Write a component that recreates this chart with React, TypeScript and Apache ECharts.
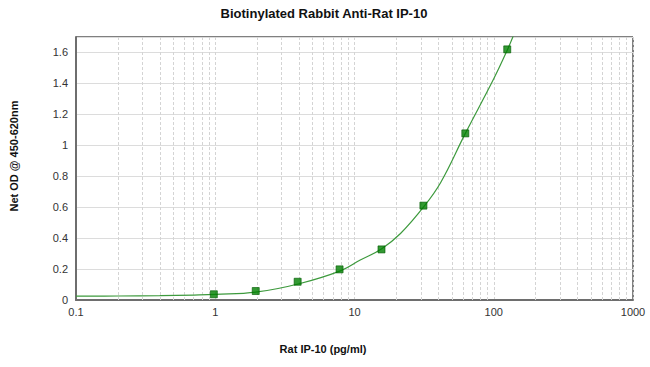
import React, { useEffect, useRef } from "react";
import * as echarts from "echarts";

const titleText = "Biotinylated Rabbit Anti-Rat IP-10";
const xTitle = "Rat IP-10 (pg/ml)";
const yTitle = "Net OD @ 450-620nm";

// standards (pg/ml) and measured net OD
const concentrations = [0.977, 1.953, 3.906, 7.8125, 15.625, 31.25, 62.5, 125];
const odValues = [0.037, 0.058, 0.118, 0.198, 0.327, 0.61, 1.077, 1.62];

// fitted curve
const curveX = [0.1, 0.2, 0.4, 0.7, 1, 2, 4, 8, 11, 15.6, 21.4, 31.25, 41.6, 62.5, 100, 125, 140];
const curveY = [0.025, 0.026, 0.028, 0.032, 0.036, 0.052, 0.105, 0.19, 0.258, 0.33, 0.43, 0.6, 0.76, 1.077, 1.43, 1.615, 1.72];

// minor log grid lines
const minorGridX = [
  0.2, 0.3, 0.4, 0.5, 0.6, 0.7, 0.8, 0.9,
  2, 3, 4, 5, 6, 7, 8, 9,
  20, 30, 40, 50, 60, 70, 80, 90,
  200, 300, 400, 500, 600, 700, 800, 900,
];

const FONT = "Arial, 'Liberation Sans', sans-serif";

export default function App() {
  const ref = useRef<HTMLDivElement>(null);
  useEffect(() => {
    document.body.style.margin = "0";
    const chart = echarts.init(ref.current!, null, { renderer: "svg" });
    chart.setOption({
      animation: false,
      backgroundColor: "#ffffff",
      grid: {
        left: 76,
        right: 17,
        top: 37,
        bottom: 67,
        show: true,
        borderColor: "#000000",
        borderWidth: 1,
        backgroundColor: "transparent",
      },
      xAxis: {
        type: "log",
        logBase: 10,
        min: 0.1,
        max: 1000,
        axisLine: { show: true, lineStyle: { color: "#6e6e6e", width: 2 } },
        axisTick: { show: false },
        axisLabel: {
          color: "#333",
          fontSize: 11,
          fontFamily: FONT,
          margin: 6,
          formatter: (v: number) => String(v),
        },
        splitLine: { show: true, lineStyle: { color: "#d4d4d4", type: [3, 2], width: 1 } },
      },
      yAxis: {
        type: "value",
        min: 0,
        max: 1.7,
        interval: 0.2,
        axisLine: { show: true, lineStyle: { color: "#6e6e6e", width: 2 } },
        axisTick: { show: false },
        axisLabel: {
          color: "#333",
          fontSize: 11,
          fontFamily: FONT,
          margin: 8,
          formatter: (v: number) => (v > 1.65 ? "" : String(Math.round(v * 10) / 10)),
        },
        splitLine: { show: true, lineStyle: { color: "#dcdcdc", width: 1 } },
      },
      graphic: [
        {
          type: "text",
          x: 324,
          y: 13,
          style: { text: titleText, font: `bold 13px ${FONT}`, fill: "#111", align: "center", verticalAlign: "middle" },
        },
        {
          type: "text",
          x: 323,
          y: 349,
          style: { text: xTitle, font: `bold 11px ${FONT}`, fill: "#111", align: "center", verticalAlign: "middle" },
        },
        {
          type: "text",
          x: 14,
          y: 156,
          rotation: Math.PI / 2,
          style: { text: yTitle, font: `bold 11px ${FONT}`, fill: "#111", align: "center", verticalAlign: "middle" },
        },
      ],
      series: [
        {
          type: "line",
          data: curveX.map((x, i) => [x, curveY[i]]),
          smooth: 0.4,
          showSymbol: false,
          clip: true,
          lineStyle: { color: "#3d9a3d", width: 1.2 },
          z: 3,
          markLine: {
            silent: true,
            symbol: "none",
            label: { show: false },
            lineStyle: { color: "#d4d4d4", type: [3, 2], width: 1 },
            data: minorGridX.map((x) => ({ xAxis: x })),
            z: 1,
          },
        },
        {
          type: "scatter",
          data: concentrations.map((x, i) => [x, odValues[i]]),
          symbol: "rect",
          symbolSize: 7,
          itemStyle: { color: "#008000", borderColor: "#005c00", borderWidth: 0.8 },
          z: 4,
        },
      ],
    });
    return () => chart.dispose();
  }, []);
  return <div ref={ref} style={{ width: 650, height: 367 }} />;
}
